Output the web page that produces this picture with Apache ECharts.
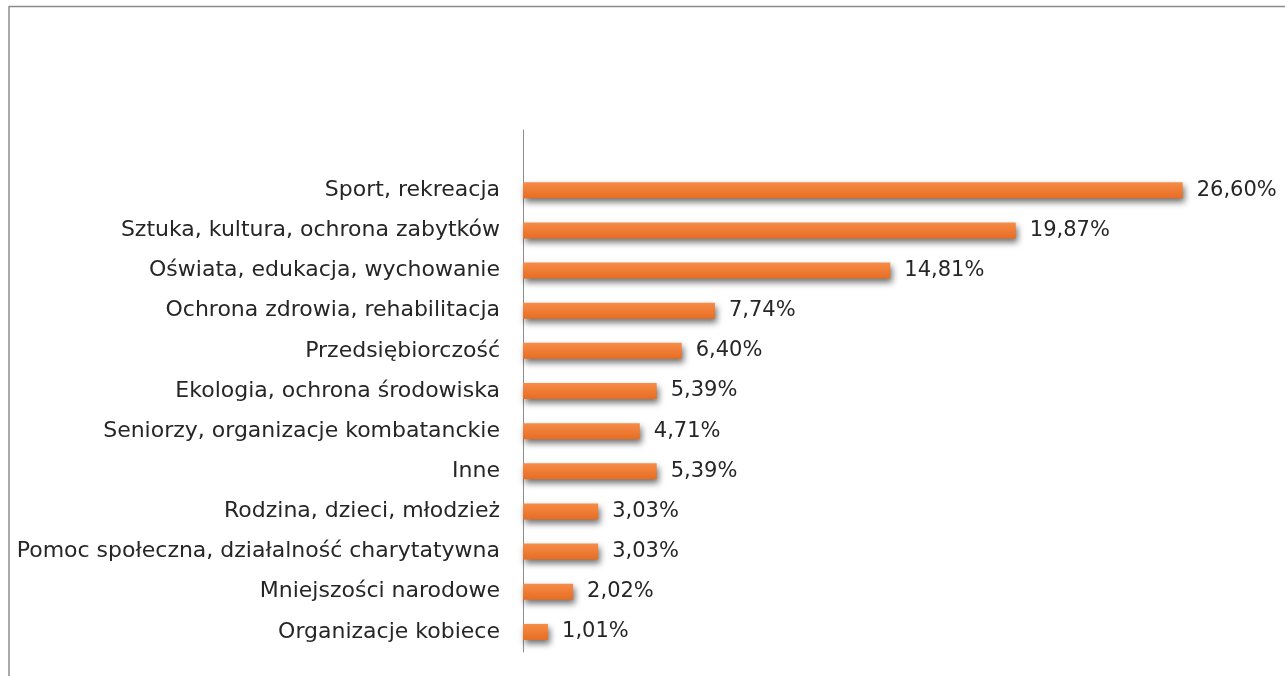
<!DOCTYPE html>
<html>
<head>
<meta charset="utf-8">
<script src="https://cdn.jsdelivr.net/npm/echarts@6/dist/echarts.min.js"></script>
<style>
html,body{margin:0;padding:0;background:#fff;}
#c{width:1285px;height:676px;}
</style>
</head>
<body>
<div id="c"></div>
<script>
const categories = [
  "",
  "Sport, rekreacja",
  "Sztuka, kultura, ochrona zabytków",
  "Oświata, edukacja, wychowanie",
  "Ochrona zdrowia, rehabilitacja",
  "Przedsiębiorczość",
  "Ekologia, ochrona środowiska",
  "Seniorzy, organizacje kombatanckie",
  "Inne",
  "Rodzina, dzieci, młodzież",
  "Pomoc społeczna, działalność charytatywna",
  "Mniejszości narodowe",
  "Organizacje kobiece"
];
const values = [null, 26.60, 19.87, 14.81, 7.74, 6.40, 5.39, 4.71, 5.39, 3.03, 3.03, 2.02, 1.01];

const chart = echarts.init(document.getElementById('c'), null, {renderer: 'canvas'});
const FONT = '"DejaVu Sans", sans-serif';
chart.setOption({
  animation: false,
  backgroundColor: '#ffffff',
  grid: {left: 523, right: 18, top: 130, bottom: 24, containLabel: false},
  xAxis: {
    type: 'value', min: 0, max: 30,
    show: false
  },
  yAxis: {
    type: 'category',
    inverse: true,
    data: categories,
    axisLine: {show: true, lineStyle: {color: '#8c8c8c', width: 1}},
    axisTick: {show: false},
    axisLabel: {
      color: '#262626', fontSize: 22, fontFamily: FONT, margin: 23
    }
  },
  series: [{
    type: 'bar',
    data: values,
    barWidth: 16,
    itemStyle: {
      color: new echarts.graphic.LinearGradient(0, 0, 0, 1, [
        {offset: 0, color: '#F68C48'},
        {offset: 1, color: '#E76D22'}
      ]),
      shadowColor: 'rgba(0,0,0,0.55)',
      shadowBlur: 6,
      shadowOffsetX: 2,
      shadowOffsetY: 4
    },
    label: {
      show: true,
      position: 'right',
      distance: 14,
      color: '#262626',
      fontSize: 21,
      fontFamily: FONT,
      formatter: p => p.value == null ? '' : p.value.toFixed(2).replace('.', ',') + '%'
    }
  }],
  graphic: [
    {type: 'line', shape: {x1: 9, y1: 6.5, x2: 1285, y2: 6.5}, style: {stroke: '#8c8c8c', lineWidth: 1.5}},
    {type: 'line', shape: {x1: 9, y1: 6, x2: 9, y2: 676}, style: {stroke: '#8c8c8c', lineWidth: 1.5}}
  ]
});
</script>
</body>
</html>
